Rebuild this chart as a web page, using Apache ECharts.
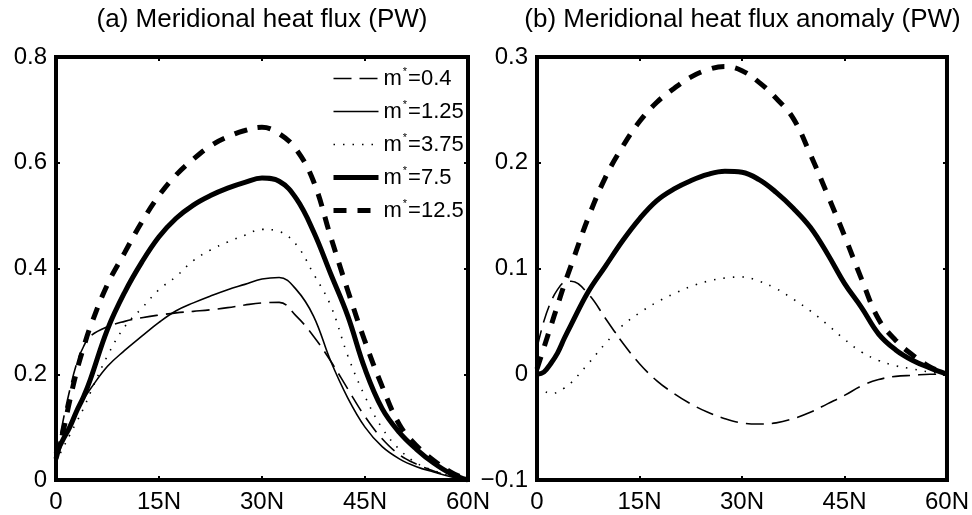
<!DOCTYPE html>
<html>
<head>
<meta charset="utf-8">
<script src="https://cdn.jsdelivr.net/npm/echarts@6/dist/echarts.min.js"></script>
<style>
  html, body { margin: 0; padding: 0; background: #fff; }
  #chart { width: 972px; height: 515px; }
</style>
</head>
<body>
<div id="chart"></div>
<script>
// latitude (degrees north)
const lat = [0, 1, 2, 3, 4, 5, 7.5, 10, 12.5, 15, 17.5, 20, 22.5, 25, 27.5, 30,
             32.5, 35, 37.5, 40, 42.5, 45, 47.5, 50, 52.5, 55, 57.5, 60];

// (a) meridional heat flux, PW
const fluxA_m0p4  = [0.04, 0.11, 0.17, 0.22, 0.252, 0.272, 0.29, 0.3, 0.307, 0.312, 0.316, 0.319, 0.322, 0.326, 0.331, 0.335,
                     0.336, 0.31, 0.272, 0.225, 0.172, 0.12, 0.078, 0.048, 0.03, 0.017, 0.007, 0];
const fluxA_m1p25 = [0.045, 0.075, 0.105, 0.13, 0.152, 0.172, 0.215, 0.245, 0.272, 0.298, 0.32, 0.335, 0.348, 0.36, 0.37, 0.38,
                     0.383, 0.36, 0.31, 0.225, 0.155, 0.1, 0.063, 0.04, 0.025, 0.015, 0.006, 0];
const fluxA_m3p75 = [0.035, 0.06, 0.085, 0.11, 0.135, 0.165, 0.235, 0.29, 0.325, 0.36, 0.385, 0.415, 0.435, 0.45, 0.463, 0.474,
                     0.47, 0.445, 0.39, 0.33, 0.235, 0.158, 0.098, 0.058, 0.032, 0.018, 0.007, 0];
const fluxA_m7p5  = [0.05, 0.076, 0.1, 0.13, 0.157, 0.19, 0.285, 0.355, 0.412, 0.46, 0.495, 0.52, 0.538, 0.552, 0.563, 0.571,
                     0.565, 0.532, 0.47, 0.39, 0.31, 0.21, 0.135, 0.09, 0.058, 0.032, 0.012, 0];
const fluxA_m12p5 = [0.04, 0.09, 0.15, 0.205, 0.25, 0.29, 0.37, 0.43, 0.488, 0.538, 0.577, 0.607, 0.632, 0.649, 0.661, 0.667,
                     0.655, 0.625, 0.565, 0.46, 0.358, 0.262, 0.177, 0.105, 0.065, 0.037, 0.015, 0];

// (b) meridional heat flux anomaly, PW (relative to m*=1.25, so no curve for it)
const anomB_m0p4  = [0.025, 0.05, 0.068, 0.08, 0.087, 0.088, 0.076, 0.053, 0.03, 0.01, -0.006, -0.018, -0.028, -0.036, -0.042, -0.046,
                     -0.047, -0.046, -0.042, -0.036, -0.028, -0.02, -0.011, -0.005, -0.002, -0.001, 0, 0];
const anomB_m3p75 = [-0.013, -0.016, -0.018, -0.017, -0.013, -0.008, 0.01, 0.029, 0.046, 0.058, 0.068, 0.076, 0.083, 0.088, 0.091, 0.092,
                     0.088, 0.081, 0.071, 0.06, 0.047, 0.033, 0.021, 0.013, 0.008, 0.005, 0.002, 0];
const anomB_m7p5  = [0, 0.002, 0.01, 0.02, 0.034, 0.047, 0.078, 0.102, 0.126, 0.147, 0.164, 0.175, 0.183, 0.189, 0.192, 0.191,
                     0.184, 0.172, 0.157, 0.139, 0.114, 0.086, 0.063, 0.038, 0.023, 0.013, 0.006, 0];
const anomB_m12p5 = [0.005, 0.025, 0.045, 0.065, 0.085, 0.103, 0.148, 0.186, 0.215, 0.239, 0.257, 0.27, 0.281, 0.288, 0.291, 0.287,
                     0.276, 0.261, 0.242, 0.208, 0.17, 0.131, 0.09, 0.052, 0.032, 0.018, 0.007, 0];

const xTicks = [0, 15, 30, 45, 60];
const xTickLabels = ['0', '15N', '30N', '45N', '60N'];
const legendNames = ['m*=0.4', 'm*=1.25', 'm*=3.75', 'm*=7.5', 'm*=12.5'];
const titles = ['(a) Meridional heat flux (PW)', '(b) Meridional heat flux anomaly (PW)'];

const FONT = 'Liberation Sans, Arial, Helvetica, sans-serif';

// line look per m*
const styles = [
    { width: 1.6, type: [18, 8] },
    { width: 1.6, type: 'solid' },
    { width: 1.6, type: [1.5, 8] },
    { width: 5, type: 'solid' },
    { width: 5, type: [13, 11] }
];

const panelA = [fluxA_m0p4, fluxA_m1p25, fluxA_m3p75, fluxA_m7p5, fluxA_m12p5];
const panelB = [anomB_m0p4, null, anomB_m3p75, anomB_m7p5, anomB_m12p5];

function pairs(ys) {
    return lat.map((x, i) => [x, ys[i]]);
}

function xLabel(v) {
    const i = xTicks.indexOf(v);
    return i >= 0 ? xTickLabels[i] : '';
}

function yLabel(v) {
    if (Math.abs(v) < 1e-9) return '0';
    const s = Math.abs(v).toFixed(1);
    return v < 0 ? '\u2212' + s : s;
}

const grids = [
    { left: 56, top: 57, width: 412, height: 423 },
    { left: 537, top: 57, width: 411, height: 423 }
];

const xAxes = [];
const yAxes = [];
const yRange = [[0, 0.8, 0.2], [-0.1, 0.3, 0.1]];

grids.forEach((g, gi) => {
    ['bottom', 'top'].forEach(pos => {
        xAxes.push({
            type: 'value', gridIndex: gi, position: pos,
            min: 0, max: 60, interval: 15,
            axisLine: { show: false, onZero: false },
            axisTick: { show: true, inside: true, length: 4, lineStyle: { color: '#000', width: 2 } },
            splitLine: { show: false },
            axisLabel: {
                show: pos === 'bottom', formatter: xLabel, margin: 10,
                color: '#000', fontSize: 24, fontFamily: FONT
            }
        });
    });
    ['left', 'right'].forEach(pos => {
        yAxes.push({
            type: 'value', gridIndex: gi, position: pos,
            min: yRange[gi][0], max: yRange[gi][1], interval: yRange[gi][2],
            axisLine: { show: false, onZero: false },
            axisTick: { show: true, inside: true, length: 4, lineStyle: { color: '#000', width: 2 } },
            splitLine: { show: false },
            axisLabel: {
                show: pos === 'left', formatter: yLabel, margin: 9,
                color: '#000', fontSize: 24, fontFamily: FONT
            }
        });
    });
});

function lineSeries(name, ys, axis, i) {
    return {
        name: name, type: 'line', xAxisIndex: axis, yAxisIndex: axis,
        data: pairs(ys), smooth: 0.4, symbol: 'none', showSymbol: false,
        lineStyle: { color: '#000', width: styles[i].width, type: styles[i].type, cap: 'butt' },
        itemStyle: { color: '#000' },
        z: 10 - i
    };
}

const series = [];
panelA.forEach((ys, i) => series.push(lineSeries(legendNames[i], ys, 0, i)));
panelB.forEach((ys, i) => {
    if (ys) series.push(lineSeries(legendNames[i], ys, 2, i));
});

const chart = echarts.init(document.getElementById('chart'), null, { renderer: 'canvas' });
chart.setOption({
    animation: false,
    backgroundColor: '#fff',
    grid: grids.map(g => Object.assign({ show: true, borderColor: '#000', borderWidth: 4, backgroundColor: 'transparent' }, g)),
    xAxis: xAxes,
    yAxis: yAxes,
    legend: {
        data: legendNames.map((n, i) => ({
            name: n,
            itemStyle: { color: 'transparent', borderWidth: 0, opacity: 0 },
            lineStyle: { color: '#000', width: styles[i].width, type: styles[i].type, cap: 'butt' }
        })),
        orient: 'vertical',
        left: 331, top: 66,
        padding: 0,
        itemWidth: 45, itemHeight: 14, itemGap: 8,
        selectedMode: false,
        formatter: name => '{m|m}{s|*}{t|' + name.slice(2) + '}',
        textStyle: {
            color: '#000', fontFamily: FONT, fontSize: 22,
            rich: {
                m: { fontSize: 22, fontFamily: FONT, color: '#000', lineHeight: 24 },
                s: { fontSize: 11, fontFamily: FONT, color: '#000', padding: [0, 1, 14, 1], lineHeight: 24 },
                t: { fontSize: 22, fontFamily: FONT, color: '#000', lineHeight: 24 }
            }
        }
    },
    graphic: titles.map((t, i) => ({
        type: 'text',
        x: grids[i].left + grids[i].width / 2,
        y: 7,
        style: { text: t, textAlign: 'center', textVerticalAlign: 'top', fontSize: 26, fontFamily: FONT, fill: '#000' }
    })),
    series: series
});
</script>
</body>
</html>
